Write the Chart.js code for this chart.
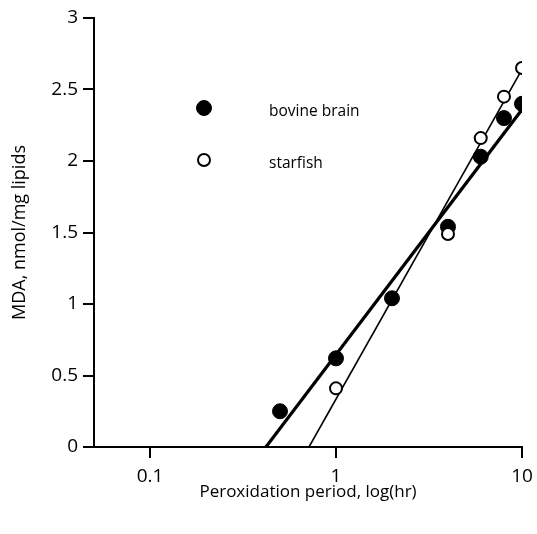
<!DOCTYPE html>
<html>
<head>
<meta charset="utf-8">
<script src="https://cdn.jsdelivr.net/npm/chart.js@4/dist/chart.umd.min.js"></script>
<style>
  html, body { margin: 0; padding: 0; background: #fff; }
  canvas { display: block; }
</style>
</head>
<body>
<canvas id="c" width="537" height="534"></canvas>
<script>
// Peroxidation period (hr) and MDA content (nmol/mg lipids)
const bovineHours = [0.5, 1, 2, 4, 6, 8, 10];
const bovineMDA   = [0.25, 0.62, 1.04, 1.54, 2.03, 2.30, 2.40];
const starfishHours = [1, 4, 6, 8, 10];
const starfishMDA   = [0.41, 1.49, 2.16, 2.45, 2.65];

// Regression lines (end points in hr / MDA)
const bovineFitHours = [0.42, 10];
const bovineFitMDA   = [0, 2.36];
const starfishFitHours = [0.716, 10];
const starfishFitMDA   = [0, 2.64];

const xTicks = [0.1, 1, 10];
const yTicks = [0, 0.5, 1, 1.5, 2, 2.5, 3];

const FONT = "'Open Sans', 'DejaVu Sans', sans-serif";
const pts = (xs, ys) => xs.map((x, i) => ({ x, y: ys[i] }));

// Key drawn inside the plot, next to the data
const legendPlugin = {
  id: 'inlineLegend',
  afterDatasetsDraw(chart) {
    const ctx = chart.ctx;
    const items = [
      { label: 'bovine brain', ds: chart.data.datasets[2], y: 108 },
      { label: 'starfish', ds: chart.data.datasets[3], y: 160 }
    ];
    ctx.save();
    items.forEach(it => {
      ctx.beginPath();
      ctx.arc(204, it.y, it.ds.pointRadius, 0, Math.PI * 2);
      ctx.fillStyle = it.ds.backgroundColor;
      ctx.fill();
      ctx.lineWidth = it.ds.borderWidth;
      ctx.strokeStyle = it.ds.borderColor;
      ctx.stroke();
      ctx.fillStyle = '#000';
      ctx.font = '15.5px ' + FONT;
      ctx.textBaseline = 'middle';
      ctx.fillText(it.label, 269, it.y + 4);
    });
    ctx.restore();
  }
};

new Chart(document.getElementById('c'), {
  type: 'scatter',
  data: {
    datasets: [
      {
        type: 'line', label: 'bovine fit', data: pts(bovineFitHours, bovineFitMDA),
        borderColor: '#000', borderWidth: 3.2, pointRadius: 0, fill: false, order: 4
      },
      {
        type: 'line', label: 'starfish fit', data: pts(starfishFitHours, starfishFitMDA),
        borderColor: '#000', borderWidth: 1.6, pointRadius: 0, fill: false, order: 3
      },
      {
        label: 'bovine brain', data: pts(bovineHours, bovineMDA),
        pointRadius: 7.5, pointHoverRadius: 7.5, backgroundColor: '#000', borderColor: '#000',
        borderWidth: 1, order: 2
      },
      {
        label: 'starfish', data: pts(starfishHours, starfishMDA),
        pointRadius: 6, pointHoverRadius: 6, backgroundColor: '#fff', borderColor: '#000',
        borderWidth: 2, order: 1
      }
    ]
  },
  options: {
    responsive: false,
    animation: false,
    layout: { padding: { top: 18, right: 15, left: 0, bottom: 0 } },
    plugins: { legend: { display: false }, tooltip: { enabled: false } },
    scales: {
      x: {
        type: 'logarithmic',
        min: 0.05, max: 10,
        afterBuildTicks: s => { s.ticks = xTicks.map(v => ({ value: v })); },
        afterFit: s => { s.height = 87; s.paddingLeft = 0; s.paddingRight = 0; },
        grid: { drawOnChartArea: false, drawTicks: true, tickLength: 11, color: '#000', lineWidth: 2 },
        border: { display: true, color: '#000', width: 2 },
        ticks: {
          color: '#000', font: { family: FONT, size: 19 }, padding: 7, maxRotation: 0,
          callback: v => String(v)
        },
        title: {
          display: true, text: 'Peroxidation period, log(hr)', color: '#000',
          font: { family: FONT, size: 17 }, padding: { top: 0, bottom: 32 }
        }
      },
      y: {
        min: 0, max: 3,
        afterBuildTicks: s => { s.ticks = yTicks.map(v => ({ value: v })); },
        afterFit: s => { s.width = 94; },
        grid: { drawOnChartArea: false, drawTicks: true, tickLength: 11, color: '#000', lineWidth: 2 },
        border: { display: true, color: '#000', width: 2 },
        ticks: {
          color: '#000', font: { family: FONT, size: 19 }, padding: 5,
          callback: v => String(v)
        },
        title: {
          display: true, text: 'MDA, nmol/mg lipids', color: '#000',
          font: { family: FONT, size: 18 }, padding: { top: 9, bottom: 0 }
        }
      }
    }
  },
  plugins: [legendPlugin]
});
</script>
</body>
</html>
